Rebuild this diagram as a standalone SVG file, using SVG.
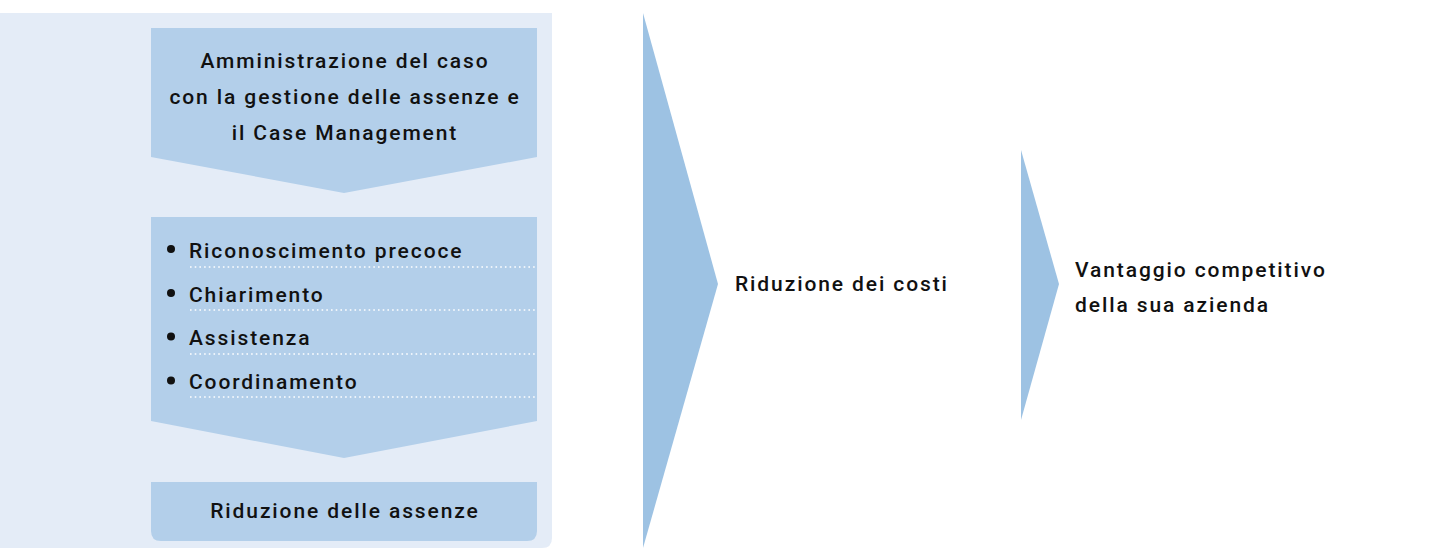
<svg xmlns="http://www.w3.org/2000/svg" width="1429" height="548" viewBox="0 0 1429 548">
<style>
.t{font-family:Roboto,"Liberation Sans",Arial,sans-serif;font-weight:500;font-size:21px;letter-spacing:1.9px;fill:#111}
.m{text-anchor:middle}
.box{fill:#B3CFEA}
.chev{fill:#9DC2E3}
.dots{stroke:#fff;stroke-width:1.6;stroke-dasharray:1.6 3.1;fill:none}
</style>
<rect width="1429" height="548" fill="#fff"/>
<g id="panel">
<path d="M0 13 H552 V538 Q552 548 542 548 H0 Z" fill="#E4ECF7"/>
</g>
<g id="box-amministrazione">
<path class="box" d="M151 28 H537 V157 L344 193 L151 157 Z"/>
<text class="t m" x="345" y="68">Amministrazione del caso</text>
<text class="t m" x="345" y="104">con la gestione delle assenze e</text>
<text class="t m" x="345" y="140">il Case Management</text>
</g>
<g id="box-attivita">
<path class="box" d="M151 217 H537 V421 L344 458 L151 421 Z"/>
<circle cx="171" cy="249" r="4" fill="#111"/>
<circle cx="171" cy="293" r="4" fill="#111"/>
<circle cx="171" cy="336.5" r="4" fill="#111"/>
<circle cx="171" cy="380.5" r="4" fill="#111"/>
<text class="t" x="189" y="258">Riconoscimento precoce</text>
<text class="t" x="189" y="302">Chiarimento</text>
<text class="t" x="189" y="345">Assistenza</text>
<text class="t" x="189" y="389">Coordinamento</text>
<path class="dots" d="M190 267 H537 M190 310 H537 M190 354 H537 M190 397 H537"/>
</g>
<g id="box-riduzione-assenze">
<path class="box" d="M151 482 H537 V531 Q537 541 527 541 H161 Q151 541 151 531 Z"/>
<text class="t m" x="345" y="518">Riduzione delle assenze</text>
</g>
<g id="connectors">
<path class="chev" d="M643 13 L718 284 L643 548 Z"/>
<path class="chev" d="M1021 150 L1059 284 L1021 420 Z"/>
</g>
<g id="node-costi">
<text class="t" x="735" y="291">Riduzione dei costi</text>
</g>
<g id="node-vantaggio">
<text class="t" x="1075" y="277">Vantaggio competitivo</text>
<text class="t" x="1075" y="312">della sua azienda</text>
</g>
</svg>
